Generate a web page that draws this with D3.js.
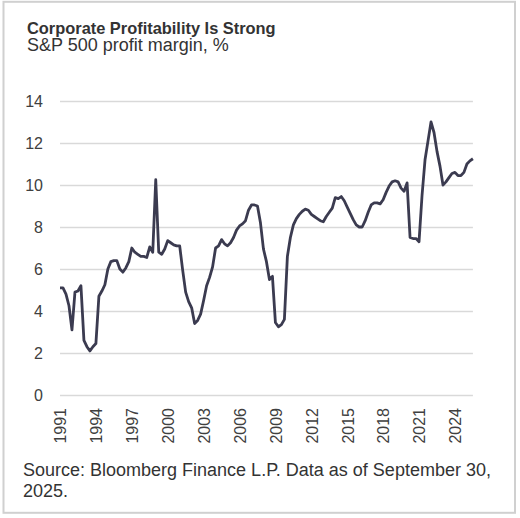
<!DOCTYPE html>
<html>
<head>
<meta charset="utf-8">
<script src="https://cdn.jsdelivr.net/npm/d3@7"></script>
<style>
  body { margin: 0; background: #fff; }
  svg { display: block; font-family: "Liberation Sans", Arial, sans-serif; }
  .grid line { stroke: #d9d9d9; stroke-width: 1.5; }
  .tick text { fill: #404040; font-size: 16px; }
</style>
</head>
<body>
<div id="chart"></div>
<script>
// S&P 500 profit margin, %, quarterly from 1991 Q1
const startYear = 1991;
const margins1990s = [
  5.1, 5.1, 4.8, 4.25, 3.1, 4.9, 4.95, 5.2, 2.6, 2.3, 2.1, 2.3,
  2.45, 4.7, 4.95, 5.25, 6.0, 6.35, 6.4, 6.4, 6.0, 5.85, 6.05, 6.35,
  7.0, 6.8, 6.7, 6.6, 6.6, 6.55, 7.05, 6.8, 10.25, 6.8, 6.7, 6.95
];
const margins2000s = [
  7.35, 7.25, 7.15, 7.1, 7.1, 5.95, 4.9, 4.45, 4.15, 3.4, 3.55, 3.85,
  4.5, 5.2, 5.6, 6.1, 7.0, 7.1, 7.4, 7.2, 7.1, 7.25, 7.5, 7.85,
  8.05, 8.15, 8.3, 8.8, 9.05, 9.05, 9.0, 8.2, 6.95, 6.35, 5.5, 5.65,
  3.45, 3.25, 3.35, 3.6
];
const margins2010s = [
  6.6, 7.5, 8.1, 8.4, 8.6, 8.75, 8.85, 8.8, 8.6, 8.5, 8.4, 8.3,
  8.25, 8.5, 8.7, 8.9, 9.4, 9.35, 9.45, 9.25, 8.95, 8.65, 8.35, 8.1,
  8.0, 8.0, 8.3, 8.7, 9.05, 9.15, 9.15, 9.1, 9.3, 9.65, 9.95, 10.15,
  10.2, 10.15, 9.85, 9.7
];
const margins2020s = [
  10.1, 7.5, 7.45, 7.45, 7.3, 9.5, 11.2, 12.1, 13.0, 12.5, 11.6, 10.9,
  10.0, 10.15, 10.35, 10.55, 10.6, 10.45, 10.45, 10.6, 11.0, 11.15, 11.25
];
const yTicks = [0, 2, 4, 6, 8, 10, 12, 14];
const xTickYears = [1991, 1994, 1997, 2000, 2003, 2006, 2009, 2012, 2015, 2018, 2021, 2024];

const titleText = "Corporate Profitability Is Strong";
const subtitleText = "S&P 500 profit margin, %";
const sourceLines = [
  "Source: Bloomberg Finance L.P. Data as of September 30,",
  "2025."
];

const margins = [...margins1990s, ...margins2000s, ...margins2010s, ...margins2020s];
const data = margins.map((value, i) => ({ t: startYear + i / 4, value }));

const width = 520;
const height = 518;
const plot = { left: 60, right: 472.9, top: 101, bottom: 395 };

const svg = d3.select("#chart")
  .append("svg")
  .attr("width", width)
  .attr("height", height);

svg.append("rect")
  .attr("x", 3.5)
  .attr("y", 1.8)
  .attr("width", 511.5)
  .attr("height", 511)
  .attr("fill", "none")
  .attr("stroke", "#d0d0d0")
  .attr("stroke-width", 2);

svg.append("text")
  .attr("x", 27)
  .attr("y", 33.5)
  .attr("font-size", 16.4)
  .attr("font-weight", "bold")
  .attr("fill", "#333")
  .text(titleText);

svg.append("text")
  .attr("x", 27)
  .attr("y", 51)
  .attr("font-size", 18)
  .attr("fill", "#333")
  .text(subtitleText);

const x = d3.scaleLinear()
  .domain([startYear, startYear + (margins.length - 1) / 4])
  .range([plot.left, plot.right]);

const y = d3.scaleLinear()
  .domain([0, 14])
  .range([plot.bottom, plot.top]);

const yAxis = svg.append("g")
  .attr("class", "grid")
  .attr("transform", `translate(${plot.left},0)`)
  .call(
    d3.axisLeft(y)
      .tickValues(yTicks)
      .tickSize(-(plot.right - plot.left))
      .tickPadding(17)
  );
yAxis.select(".domain").remove();
yAxis.selectAll(".tick text").attr("dy", "0.34em");

const xAxis = svg.append("g")
  .attr("transform", `translate(0,${plot.bottom})`)
  .call(
    d3.axisBottom(x)
      .tickValues(xTickYears)
      .tickSize(0)
      .tickFormat(d3.format("d"))
  );
xAxis.select(".domain").remove();
xAxis.selectAll(".tick text")
  .attr("transform", "rotate(-90)")
  .attr("x", -13)
  .attr("y", 0)
  .attr("dy", "0.36em")
  .attr("text-anchor", "end");

const line = d3.line()
  .x((d) => x(d.t))
  .y((d) => y(d.value));

svg.append("path")
  .datum(data)
  .attr("fill", "none")
  .attr("stroke", "#3b3b50")
  .attr("stroke-width", 2.8)
  .attr("stroke-linejoin", "round")
  .attr("d", line);

svg.append("g")
  .selectAll("text")
  .data(sourceLines)
  .join("text")
  .attr("x", 23)
  .attr("y", (d, i) => 476 + i * 21)
  .attr("font-size", 18)
  .attr("fill", "#333")
  .text((d) => d);
</script>
</body>
</html>
